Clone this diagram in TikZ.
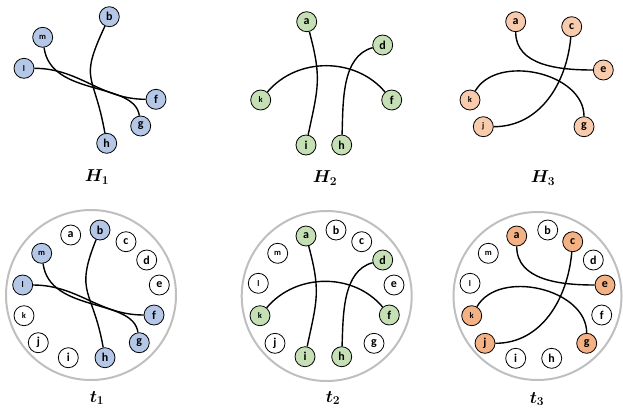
\documentclass[tikz,border=0pt]{standalone}
\usepackage{fontspec}
\usepackage{amsmath,bm}
\setmainfont{Carlito}
\definecolor{nblue}{HTML}{B4C7E7}
\definecolor{ngreen}{HTML}{C5E0B4}
\definecolor{npeach}{HTML}{F8CBAD}
\definecolor{norange}{HTML}{F4B183}
\definecolor{ringgray}{HTML}{BFBFBF}
\tikzset{
  vtx/.style={circle,draw=black,line width=0.8pt,minimum size=20pt,inner sep=0pt,font=\fontsize{12}{12}\selectfont\bfseries,fill=white},
  sm/.style={font=\fontsize{8.5}{8.5}\selectfont\bfseries},
  bl/.style={fill=nblue},
  gr/.style={fill=ngreen},
  pe/.style={fill=npeach},
  orr/.style={fill=norange},
  edge/.style={line width=1.4pt,black},
  ring/.style={draw=ringgray,line width=2pt},
  lbl/.style={font=\fontsize{18}{18}\selectfont}
}
\begin{document}
\begin{tikzpicture}[x=1pt,y=1pt]
\useasboundingbox (0,0) rectangle (623,-416);
% ---------- H1 ----------
\node[vtx,bl] (H1b) at (109.3,-16.7) {b};
\node[vtx,bl,sm] (H1m) at (42.7,-37.3) {m};
\node[vtx,bl,sm] (H1l) at (24,-68.3) {l};
\node[vtx,bl] (H1f) at (156,-99.3) {f};
\node[vtx,bl] (H1g) at (140.7,-126) {g};
\node[vtx,bl] (H1h) at (106.7,-143.3) {h};
\draw[edge] (H1b) to[out=-115,in=100,looseness=1.5] (H1h);
\draw[edge] (H1m) .. controls +(8,-60) and +(-6,45) .. (H1g);
\draw[edge] (H1l) to[out=0,in=180] (H1f);
\node[lbl] (H1lab) at (97,-177) {$\boldsymbol{H_1}$};
% ---------- H2 ----------
\node[vtx,gr] (H2a) at (306.7,-21.7) {a};
\node[vtx,gr] (H2d) at (382.7,-45) {d};
\node[vtx,gr,sm] (H2k) at (260.7,-100) {k};
\node[vtx,gr] (H2f) at (391.7,-100) {f};
\node[vtx,gr] (H2i) at (306,-145) {i};
\node[vtx,gr] (H2h) at (341.7,-145) {h};
\draw[edge] (H2a) to[out=-75,in=78,looseness=1.2] (H2i);
\draw[edge] (H2d) to[out=195,in=88,looseness=0.9] (H2h);
\draw[edge] (H2k) to[out=50,in=130] (H2f);
\node[lbl] (H2lab) at (325,-178) {$\boldsymbol{H_2}$};
% ---------- H3 ----------
\node[vtx,pe] (H3a) at (515.7,-21.7) {a};
\node[vtx,pe] (H3c) at (571.7,-26.7) {c};
\node[vtx,pe] (H3e) at (603.3,-70) {e};
\node[vtx,pe,sm] (H3k) at (470,-100) {k};
\node[vtx,pe,sm] (H3j) at (483.3,-126.7) {j};
\node[vtx,pe] (H3g) at (584,-126.7) {g};
\draw[edge] (H3a) to[out=-90,in=180] (H3e);
\draw[edge] (H3c) to[out=-95,in=0] (H3j);
\draw[edge] (H3k) to[out=60,in=90] (H3g);
\node[lbl] (H3lab) at (543,-178) {$\boldsymbol{H_3}$};
% ---------- t1 ----------
\node[ring,circle,minimum size=170pt] (R1) at (91,-295) {};
\node[vtx] (t1a) at (70.7,-235) {a};
\node[vtx,bl] (t1b) at (100,-230) {b};
\node[vtx] (t1c) at (126,-241.7) {c};
\node[vtx] (t1d) at (146.7,-260) {d};
\node[vtx] (t1e) at (159.3,-285) {e};
\node[vtx,bl] (t1f) at (154,-315) {f};
\node[vtx,bl] (t1g) at (139.3,-342.7) {g};
\node[vtx,bl] (t1h) at (105,-357.7) {h};
\node[vtx] (t1i) at (68.3,-357.7) {i};
\node[vtx] (t1j) at (38.3,-342.7) {j};
\node[vtx,sm] (t1k) at (24,-315.7) {k};
\node[vtx,bl,sm] (t1l) at (22.7,-285) {l};
\node[vtx,bl,sm] (t1m) at (41.7,-253.3) {m};
\draw[edge] (t1b) to[out=-112,in=100,looseness=1.4] (t1h);
\draw[edge] (t1m) .. controls +(8,-60) and +(-6,45) .. (t1g);
\draw[edge] (t1l) to[out=0,in=180] (t1f);
\node[lbl] (t1lab) at (97,-398) {$\boldsymbol{t_1}$};
% ---------- t2 ----------
\node[ring,circle,minimum size=170pt] (R2) at (326.7,-296) {};
\node[vtx,gr] (t2a) at (306,-236) {a};
\node[vtx] (t2b) at (336,-230) {b};
\node[vtx] (t2c) at (361.7,-241.7) {c};
\node[vtx,gr] (t2d) at (382.7,-260) {d};
\node[vtx] (t2e) at (394,-285) {e};
\node[vtx,gr] (t2f) at (389.3,-315) {f};
\node[vtx] (t2g) at (374,-343.3) {g};
\node[vtx,gr] (t2h) at (341.7,-356.7) {h};
\node[vtx,gr] (t2i) at (305,-356.7) {i};
\node[vtx] (t2j) at (275,-343.3) {j};
\node[vtx,gr,sm] (t2k) at (260,-315.7) {k};
\node[vtx,sm] (t2l) at (258.3,-283.3) {l};
\node[vtx,sm] (t2m) at (277.7,-253.3) {m};
\draw[edge] (t2a) to[out=-75,in=78,looseness=1.2] (t2i);
\draw[edge] (t2d) to[out=195,in=88,looseness=0.9] (t2h);
\draw[edge] (t2k) to[out=50,in=130] (t2f);
\node[lbl] (t2lab) at (333,-398) {$\boldsymbol{t_2}$};
% ---------- t3 ----------
\node[ring,circle,minimum size=168pt] (R3) at (537.5,-296) {};
\node[vtx,orr] (t3a) at (516.7,-236) {a};
\node[vtx] (t3b) at (547.7,-230) {b};
\node[vtx,orr] (t3c) at (572.7,-241.7) {c};
\node[vtx] (t3d) at (593.3,-260) {d};
\node[vtx,orr] (t3e) at (605,-285) {e};
\node[vtx] (t3f) at (601.7,-315) {f};
\node[vtx,orr] (t3g) at (586.7,-343.3) {g};
\node[vtx] (t3h) at (551.7,-358.3) {h};
\node[vtx] (t3i) at (515.7,-358.3) {i};
\node[vtx,orr] (t3j) at (485,-343.3) {j};
\node[vtx,orr,sm] (t3k) at (471.7,-315.7) {k};
\node[vtx,sm] (t3l) at (470,-283.3) {l};
\node[vtx,sm] (t3m) at (488.3,-253.3) {m};
\draw[edge] (t3a) to[out=-90,in=180] (t3e);
\draw[edge] (t3c) to[out=-95,in=0] (t3j);
\draw[edge] (t3k) to[out=60,in=90] (t3g);
\node[lbl] (t3lab) at (537,-399) {$\boldsymbol{t_3}$};
\end{tikzpicture}
\end{document}
